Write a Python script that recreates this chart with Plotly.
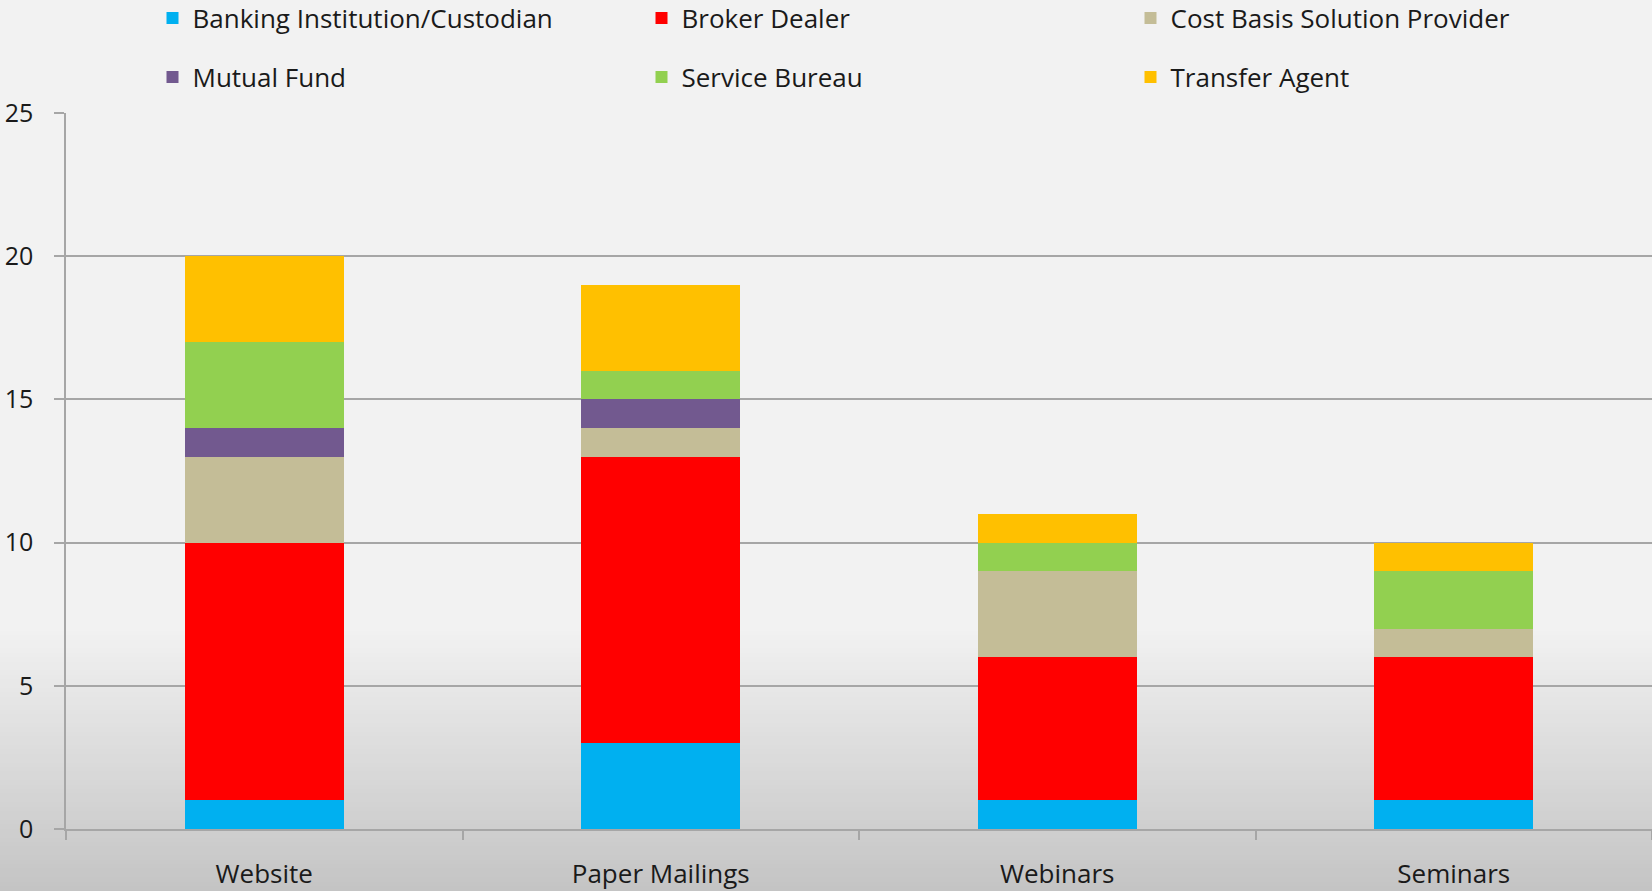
import plotly.graph_objects as go

categories = ["Website", "Paper Mailings", "Webinars", "Seminars"]
banking = [1, 3, 1, 1]
broker = [9, 10, 5, 5]
cost_basis = [3, 1, 3, 1]
mutual_fund = [1, 1, 0, 0]
service_bureau = [3, 1, 1, 2]
transfer_agent = [3, 3, 1, 1]

series = [
    ("Banking Institution/Custodian", banking, "#00B0F0", "legend"),
    ("Broker Dealer", broker, "#FF0000", "legend"),
    ("Cost Basis Solution Provider", cost_basis, "#C4BD97", "legend"),
    ("Mutual Fund", mutual_fund, "#72598F", "legend2"),
    ("Service Bureau", service_bureau, "#92D050", "legend2"),
    ("Transfer Agent", transfer_agent, "#FFC000", "legend2"),
]

FONT = "Open Sans"
W, H = 1652, 891
ML, MR, MT, MB = 66, 0, 113, 62
PH = H - MT - MB
PW = W - ML - MR

fig = go.Figure()
for name, vals, color, lg in series:
    fig.add_trace(go.Bar(
        x=categories, y=vals, name=name, legend=lg,
        marker=dict(color=color, line=dict(width=0)),
    ))

# background gradient (lower part of page)
shapes = []
g_start, g_end = 627, H
n = 60
c0, c1 = 242, 196
for i in range(n):
    y0p = g_start + (g_end - g_start) * i / n
    y1p = g_start + (g_end - g_start) * (i + 1) / n
    t = (i + 0.5) / n
    c = round(c0 + (c1 - c0) * t)
    shapes.append(dict(
        type="rect", xref="paper", yref="paper", layer="below",
        x0=-ML / PW - 0.01, x1=1.01,
        y0=(H - MB - y1p) / PH - 0.001, y1=(H - MB - y0p) / PH + 0.001,
        fillcolor=f"rgb({c},{c},{c})", line=dict(width=0),
    ))

legend_common = dict(
    orientation="h", xanchor="left", yanchor="middle",
    entrywidth=444, entrywidthmode="pixels",
    font=dict(family=FONT, size=26, color="#1a1a1a"),
    bgcolor="rgba(0,0,0,0)", borderwidth=0, traceorder="normal",
)
lx = (152.5 - ML) / PW

fig.update_layout(
    width=W, height=H,
    margin=dict(l=ML, r=MR, t=MT, b=MB, pad=0, autoexpand=False),
    barmode="stack", bargap=0.6,
    paper_bgcolor="#f2f2f2", plot_bgcolor="rgba(0,0,0,0)",
    font=dict(family=FONT, size=24, color="#1a1a1a"),
    shapes=shapes,
    legend=dict(x=lx, y=(H - MB - 18) / PH, **legend_common),
    legend2=dict(x=lx, y=(H - MB - 77) / PH, **legend_common),
    xaxis=dict(
        showline=True, linecolor="#a6a6a6", linewidth=1.5,
        ticks="outside", tickson="boundaries", ticklen=9,
        tickcolor="#a6a6a6", tickwidth=1.5,
        tickfont=dict(family=FONT, size=26, color="#1a1a1a"),
        ticklabelstandoff=21, showgrid=False,
    ),
    yaxis=dict(
        range=[0, 25], dtick=5, tick0=0,
        showline=True, linecolor="#a6a6a6", linewidth=1.5,
        ticks="outside", ticklen=10, tickcolor="#a6a6a6", tickwidth=1.5,
        showgrid=True, gridcolor="#a6a6a6", gridwidth=1.5,
        zeroline=False,
        tickfont=dict(family=FONT, size=25, color="#1a1a1a"),
        ticklabelstandoff=16,
    ),
)

fig.write_html("out.html")
